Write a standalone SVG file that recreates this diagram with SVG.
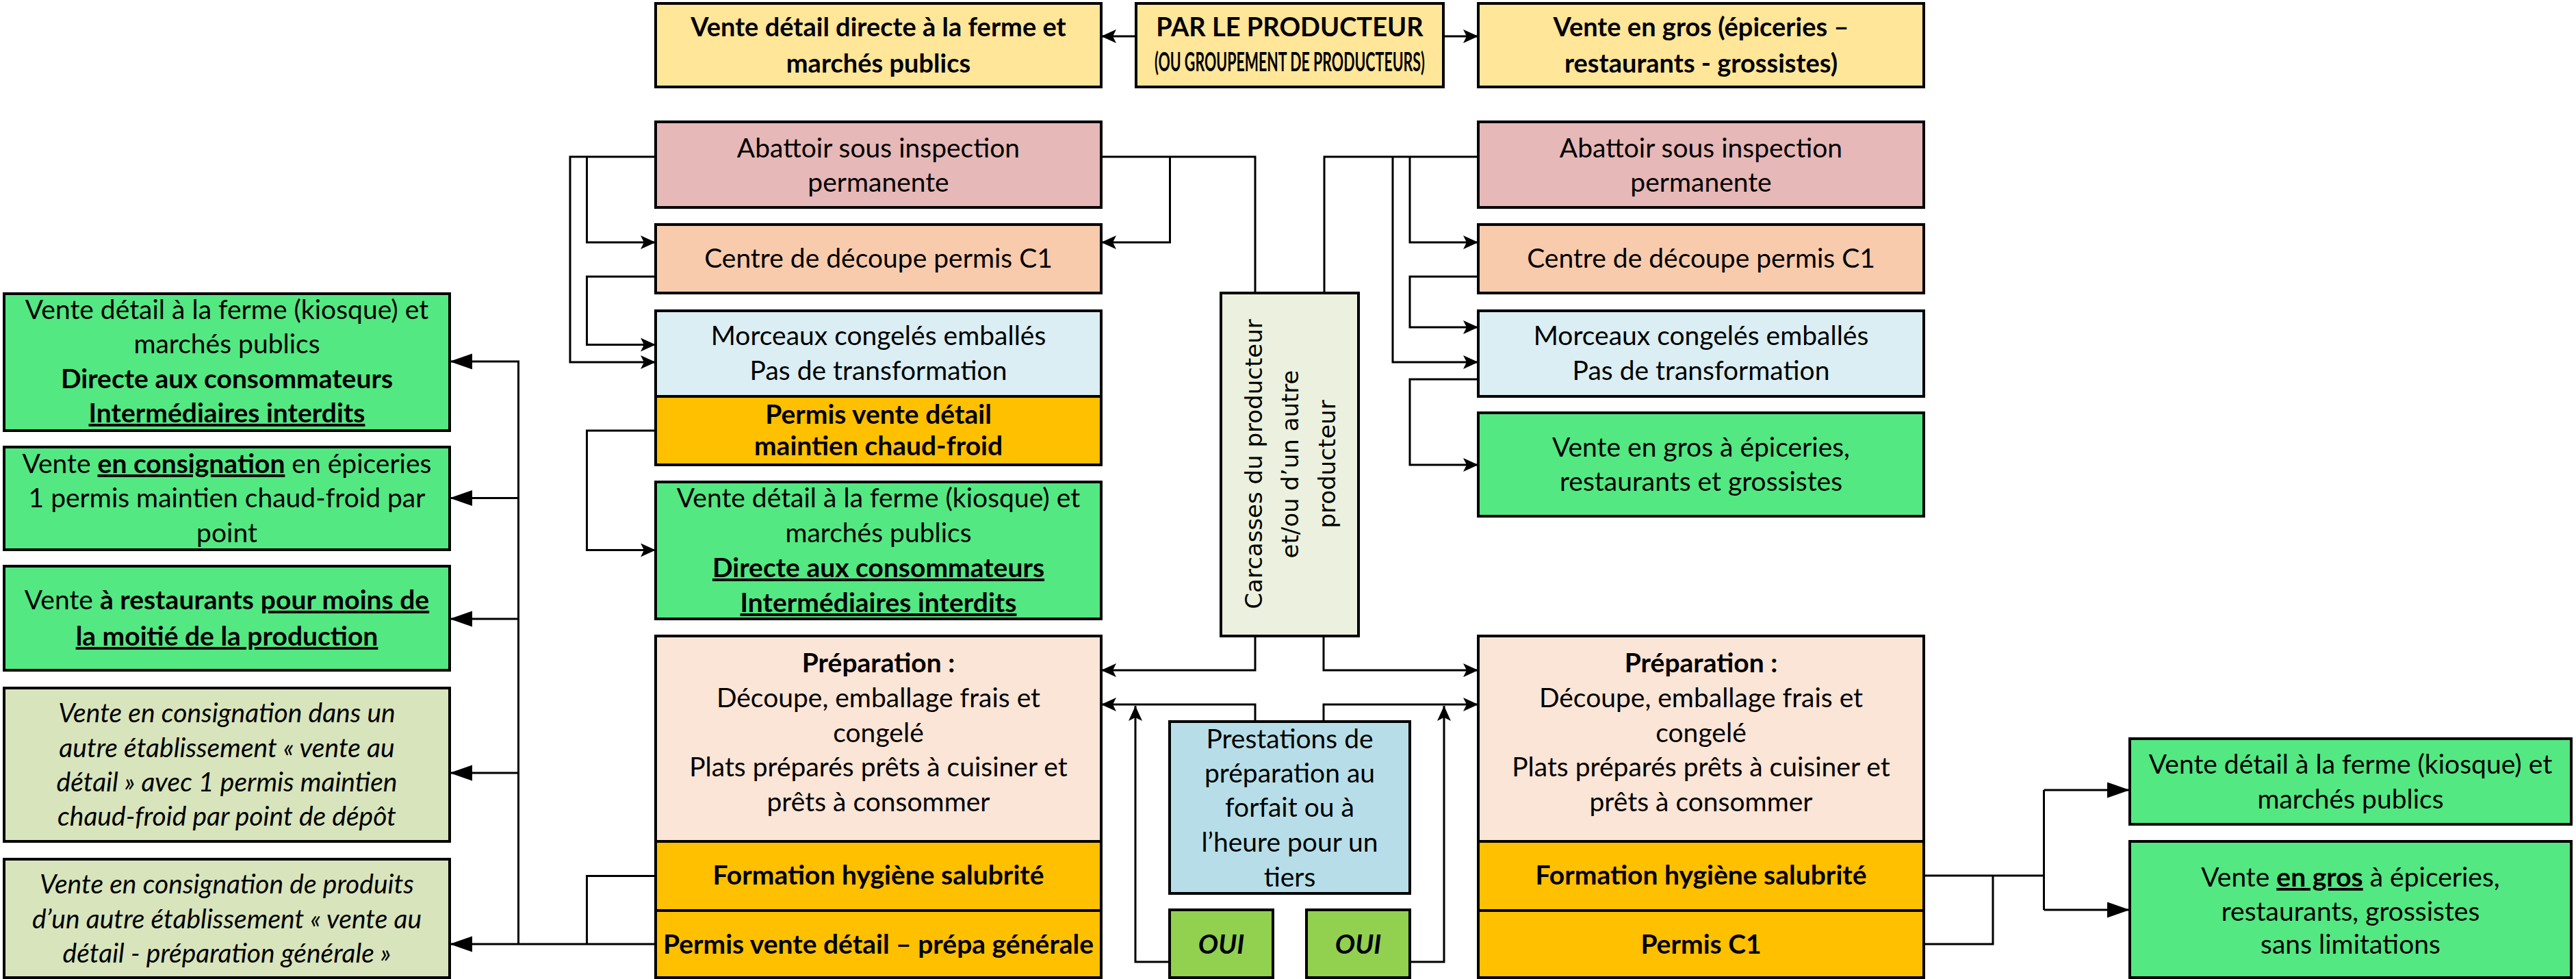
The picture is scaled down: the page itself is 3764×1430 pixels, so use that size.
<svg xmlns="http://www.w3.org/2000/svg" width="3764" height="1430" viewBox="0 0 3764 1430">
<style>
.box{stroke:#000;stroke-width:4}
.conn{fill:none;stroke:#000;stroke-width:3}
text{font-family:Lato,"Liberation Sans",sans-serif;font-size:39px;text-anchor:middle;fill:#000}
.b{font-weight:700}
.i{font-style:italic}
.u{text-decoration:underline}
.t{font-size:38px}
.yel{fill:#FFE699}.pink{fill:#E6B8B7}.peach{fill:#F8CBAD}.lblue{fill:#DAEEF3}.gold{fill:#FFC000}
.green{fill:#53E882}.prep{fill:#FBE5D6}.carc{fill:#EBF1DE}.prest{fill:#B7DEE8}.oui{fill:#92D050}.pale{fill:#D8E4BC}
.dv{font-family:"DejaVu Sans",Verdana,sans-serif;font-size:34px}
</style>
<defs>
<marker id="as" markerUnits="userSpaceOnUse" markerWidth="24" markerHeight="22" refX="22" refY="10" orient="auto"><path d="M0,0 L22,10 L0,20 L5,10 z" fill="#000"/></marker>
<marker id="al" markerUnits="userSpaceOnUse" markerWidth="34" markerHeight="24" refX="33" refY="11.5" orient="auto"><path d="M0,0 L33,11.5 L0,23 z" fill="#000"/></marker>
</defs>
<rect width="3764" height="1430" fill="#fff"/>

<g id="connectors">
<path class="conn" d="M1660,53 H1609" marker-end="url(#as)"/>
<path class="conn" d="M2109,53 H2160" marker-end="url(#as)"/>
<path class="conn" d="M958,229 H833 V529 H958" marker-end="url(#as)"/>
<path class="conn" d="M857.5,229 V354 H958" marker-end="url(#as)"/>
<path class="conn" d="M958,404 H857.5 V503.5 H958" marker-end="url(#as)"/>
<path class="conn" d="M958,629 H857.5 V803.5 H958" marker-end="url(#as)"/>
<path class="conn" d="M1609,229 H1834 V428"/>
<path class="conn" d="M1709.5,229 V354 H1609" marker-end="url(#as)"/>
<path class="conn" d="M1935,428 V229 H2160"/>
<path class="conn" d="M2060,229 V354 H2160" marker-end="url(#as)"/>
<path class="conn" d="M2035,229 V529 H2160" marker-end="url(#as)"/>
<path class="conn" d="M2160,404 H2060 V478 H2160" marker-end="url(#as)"/>
<path class="conn" d="M2160,554 H2060 V679 H2160" marker-end="url(#as)"/>
<path class="conn" d="M1834,929 V979 H1609" marker-end="url(#as)"/>
<path class="conn" d="M1934,929 V979 H2160" marker-end="url(#as)"/>
<path class="conn" d="M1834,1054 V1029 H1609" marker-end="url(#as)"/>
<path class="conn" d="M1934,1054 V1029 H2160" marker-end="url(#as)"/>
<path class="conn" d="M1709,1405 H1659 V1031" marker-end="url(#as)"/>
<path class="conn" d="M2060,1405 H2110 V1031" marker-end="url(#as)"/>
<path class="conn" d="M958,1379 H657" marker-end="url(#al)"/>
<path class="conn" d="M757.5,1379 V528 H657" marker-end="url(#al)"/>
<path class="conn" d="M757.5,727.5 H657" marker-end="url(#al)"/>
<path class="conn" d="M757.5,904 H657" marker-end="url(#al)"/>
<path class="conn" d="M757.5,1129 H657" marker-end="url(#al)"/>
<path class="conn" d="M958,1279.5 H857.5 V1379"/>
<path class="conn" d="M2811,1279 H2986.5"/>
<path class="conn" d="M2986.5,1154 V1329"/>
<path class="conn" d="M2986.5,1154 H3112" marker-end="url(#al)"/>
<path class="conn" d="M2986.5,1329 H3112" marker-end="url(#al)"/>
<path class="conn" d="M2811,1379 H2912 V1279"/>
</g>

<g id="top-left">
<rect class="box yel" x="958" y="5" width="651" height="122"/>
<text class="b t" x="1283.5" y="53">Vente détail directe à la ferme et</text>
<text class="b t" x="1283.5" y="106">marchés publics</text>
</g>
<g id="top-producteur">
<rect class="box yel" x="1660" y="5" width="449" height="122"/>
<text class="b t" x="1884.5" y="53">PAR LE PRODUCTEUR</text>
<text class="b" x="1884.5" y="104" font-size="20" textLength="395" lengthAdjust="spacingAndGlyphs">(OU GROUPEMENT DE PRODUCTEURS)</text>
</g>
<g id="top-right">
<rect class="box yel" x="2160" y="5" width="651" height="122"/>
<text class="b t" x="2485.5" y="53">Vente en gros (épiceries –</text>
<text class="b t" x="2485.5" y="106">restaurants - grossistes)</text>
</g>

<g id="abattoir-l">
<rect class="box pink" x="958" y="178" width="651" height="125"/>
<text x="1283.5" y="230">Abattoir sous inspection</text>
<text x="1283.5" y="280">permanente</text>
</g>
<g id="decoupe-l">
<rect class="box peach" x="958" y="328" width="651" height="100"/>
<text x="1283.5" y="391">Centre de découpe permis C1</text>
</g>
<g id="morceaux-l">
<rect class="box lblue" x="958" y="454" width="651" height="125"/>
<text x="1283.5" y="504">Morceaux congelés emballés</text>
<text x="1283.5" y="555">Pas de transformation</text>
</g>
<g id="permis-chaud-froid">
<rect class="box gold" x="958" y="579" width="651" height="100"/>
<text class="b" x="1283.5" y="619" font-size="37">Permis vente détail</text>
<text class="b" x="1283.5" y="665" font-size="37">maintien chaud-froid</text>
</g>
<g id="vente-detail-l">
<rect class="box green" x="958" y="704" width="651" height="200"/>
<text x="1283.5" y="741">Vente détail à la ferme (kiosque) et</text>
<text x="1283.5" y="792">marchés publics</text>
<text class="b u" x="1283.5" y="843">Directe aux consommateurs</text>
<text class="b u" x="1283.5" y="894">Intermédiaires interdits</text>
</g>
<g id="preparation-l">
<rect class="box prep" x="958" y="929" width="651" height="300"/>
<text class="b" x="1283.5" y="982">Préparation :</text>
<text x="1283.5" y="1033">Découpe, emballage frais et</text>
<text x="1283.5" y="1084">congelé</text>
<text x="1283.5" y="1134">Plats préparés prêts à cuisiner et</text>
<text x="1283.5" y="1185">prêts à consommer</text>
</g>
<g id="formation-l">
<rect class="box gold" x="958" y="1229" width="651" height="101"/>
<text class="b" x="1283.5" y="1292">Formation hygiène salubrité</text>
</g>
<g id="permis-prepa">
<rect class="box gold" x="958" y="1330" width="651" height="98"/>
<text class="b" x="1283.5" y="1393" font-size="37">Permis vente détail – prépa générale</text>
</g>

<g id="abattoir-r">
<rect class="box pink" x="2160" y="178" width="651" height="125"/>
<text x="2485.5" y="230">Abattoir sous inspection</text>
<text x="2485.5" y="280">permanente</text>
</g>
<g id="decoupe-r">
<rect class="box peach" x="2160" y="328" width="651" height="100"/>
<text x="2485.5" y="391">Centre de découpe permis C1</text>
</g>
<g id="morceaux-r">
<rect class="box lblue" x="2160" y="454" width="651" height="125"/>
<text x="2485.5" y="504">Morceaux congelés emballés</text>
<text x="2485.5" y="555">Pas de transformation</text>
</g>
<g id="vente-gros-r">
<rect class="box green" x="2160" y="603" width="651" height="151"/>
<text x="2485.5" y="667">Vente en gros à épiceries,</text>
<text x="2485.5" y="717">restaurants et grossistes</text>
</g>
<g id="preparation-r">
<rect class="box prep" x="2160" y="929" width="651" height="300"/>
<text class="b" x="2485.5" y="982">Préparation :</text>
<text x="2485.5" y="1033">Découpe, emballage frais et</text>
<text x="2485.5" y="1084">congelé</text>
<text x="2485.5" y="1134">Plats préparés prêts à cuisiner et</text>
<text x="2485.5" y="1185">prêts à consommer</text>
</g>
<g id="formation-r">
<rect class="box gold" x="2160" y="1229" width="651" height="101"/>
<text class="b" x="2485.5" y="1292">Formation hygiène salubrité</text>
</g>
<g id="permis-c1">
<rect class="box gold" x="2160" y="1330" width="651" height="98"/>
<text class="b" x="2485.5" y="1393">Permis C1</text>
</g>

<g id="carcasses">
<rect class="box carc" x="1784" y="428" width="201" height="501"/>
<g transform="translate(1844,678) rotate(-90)">
<text class="dv" x="0" y="0">Carcasses du producteur</text>
<text class="dv" x="0" y="53">et/ou d’un autre</text>
<text class="dv" x="0" y="107">producteur</text>
</g>
</g>
<g id="prestations">
<rect class="box prest" x="1709" y="1054" width="351" height="251"/>
<text x="1884.5" y="1093">Prestations de</text>
<text x="1884.5" y="1143">préparation au</text>
<text x="1884.5" y="1193">forfait ou à</text>
<text x="1884.5" y="1244">l’heure pour un</text>
<text x="1884.5" y="1295">tiers</text>
</g>
<g id="oui-1">
<rect class="box oui" x="1709" y="1329" width="151" height="99"/>
<text class="b i" x="1784.5" y="1393">OUI</text>
</g>
<g id="oui-2">
<rect class="box oui" x="1909" y="1329" width="151" height="99"/>
<text class="b i" x="1984.5" y="1393">OUI</text>
</g>

<g id="fl-vente-detail">
<rect class="box green" x="6" y="429" width="651" height="200"/>
<text x="331.5" y="466">Vente détail à la ferme (kiosque) et</text>
<text x="331.5" y="516">marchés publics</text>
<text class="b" x="331.5" y="567">Directe aux consommateurs</text>
<text class="b u" x="331.5" y="617">Intermédiaires interdits</text>
</g>
<g id="fl-consignation">
<rect class="box green" x="6" y="653" width="651" height="150"/>
<text x="331.5" y="691">Vente <tspan class="b u">en consignation</tspan> en épiceries</text>
<text x="331.5" y="741">1 permis maintien chaud-froid  par</text>
<text x="331.5" y="792">point</text>
</g>
<g id="fl-restaurants">
<rect class="box green" x="6" y="827" width="651" height="152"/>
<text x="331.5" y="890">Vente <tspan class="b">à restaurants</tspan> <tspan class="b u">pour moins de</tspan></text>
<text class="b u" x="331.5" y="943">la moitié de la production</text>
</g>
<g id="fl-consignation-autre">
<rect class="box pale" x="6" y="1005" width="651" height="224"/>
<text class="i" x="331.5" y="1055">Vente en consignation dans un</text>
<text class="i" x="331.5" y="1106">autre établissement « vente au</text>
<text class="i" x="331.5" y="1156">détail » avec 1 permis maintien</text>
<text class="i" x="331.5" y="1206">chaud-froid par point de dépôt</text>
</g>
<g id="fl-consignation-produits">
<rect class="box pale" x="6" y="1255" width="651" height="173"/>
<text class="i" x="331.5" y="1305">Vente en consignation de produits</text>
<text class="i" x="331.5" y="1356">d’un autre établissement « vente au</text>
<text class="i" x="331.5" y="1406">détail - préparation générale »</text>
</g>

<g id="fr-vente-detail">
<rect class="box green" x="3112" y="1079" width="645" height="125"/>
<text x="3434.5" y="1130">Vente détail à la ferme (kiosque) et</text>
<text x="3434.5" y="1181">marchés publics</text>
</g>
<g id="fr-vente-gros">
<rect class="box green" x="3112" y="1229" width="645" height="199"/>
<text x="3434.5" y="1295">Vente <tspan class="b u">en gros</tspan> à épiceries,</text>
<text x="3434.5" y="1345">restaurants, grossistes</text>
<text x="3434.5" y="1393">sans limitations</text>
</g>
</svg>
